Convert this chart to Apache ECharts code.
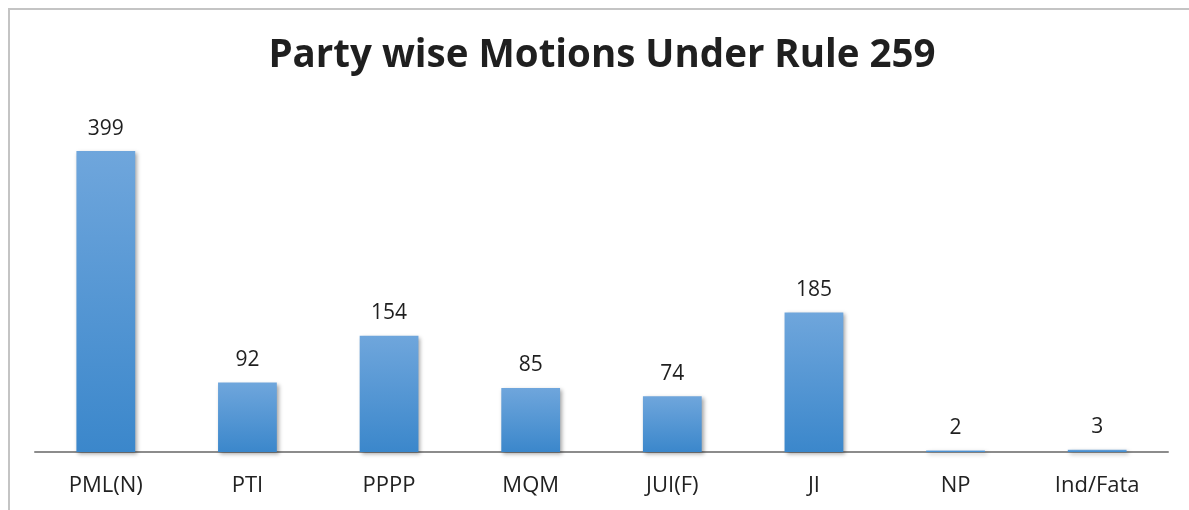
<!DOCTYPE html>
<html>
<head>
<meta charset="utf-8">
<script src="https://cdn.jsdelivr.net/npm/echarts@6/dist/echarts.min.js"></script>
<style>
  html, body { margin: 0; padding: 0; background: #fff; }
  #frame { position: absolute; left: 8px; top: 8px; width: 1181px; height: 502px;
           border-left: 2px solid #c4c4c4; border-top: 2px solid #c4c4c4; }
  #chart { position: absolute; left: 0; top: 0; width: 1189px; height: 510px; }
</style>
</head>
<body>
<div id="frame"></div>
<div id="chart"></div>
<script>
// party names and motion counts
const parties = ['PML(N)', 'PTI', 'PPPP', 'MQM', 'JUI(F)', 'JI', 'NP', 'Ind/Fata'];
const motions = [399, 92, 154, 85, 74, 185, 2, 3];

const chart = echarts.init(document.getElementById('chart'));

const option = {
  animation: false,
  title: {
    text: 'Party wise Motions Under Rule 259',
    left: 597,
    top: 32,
    textAlign: 'center',
    textStyle: {
      fontFamily: 'Open Sans',
      fontWeight: 'bold',
      fontSize: 38.5,
      color: '#1f1f1f'
    }
  },
  grid: {
    left: 35,
    right: 21,
    top: 112.6,
    bottom: 58
  },
  xAxis: {
    type: 'category',
    data: parties,
    axisTick: { show: false },
    axisLine: { lineStyle: { color: '#8c8c8c', width: 2 } },
    axisLabel: {
      fontFamily: 'Open Sans',
      fontSize: 22,
      color: '#222',
      margin: 23
    }
  },
  yAxis: {
    type: 'value',
    min: 0,
    max: 450,
    show: false
  },
  series: [
    {
      type: 'bar',
      data: motions,
      barWidth: '41.5%',
      itemStyle: {
        color: new echarts.graphic.LinearGradient(0, 0, 0, 1, [
          { offset: 0, color: '#6fa6dc' },
          { offset: 1, color: '#3b87cb' }
        ]),
        shadowColor: 'rgba(0,0,0,0.35)',
        shadowBlur: 4,
        shadowOffsetX: 2,
        shadowOffsetY: 2
      },
      label: {
        show: true,
        position: 'top',
        distance: 12,
        fontFamily: 'Open Sans',
        fontSize: 21,
        color: '#1f1f1f'
      }
    }
  ]
};

chart.setOption(option);
</script>
</body>
</html>
